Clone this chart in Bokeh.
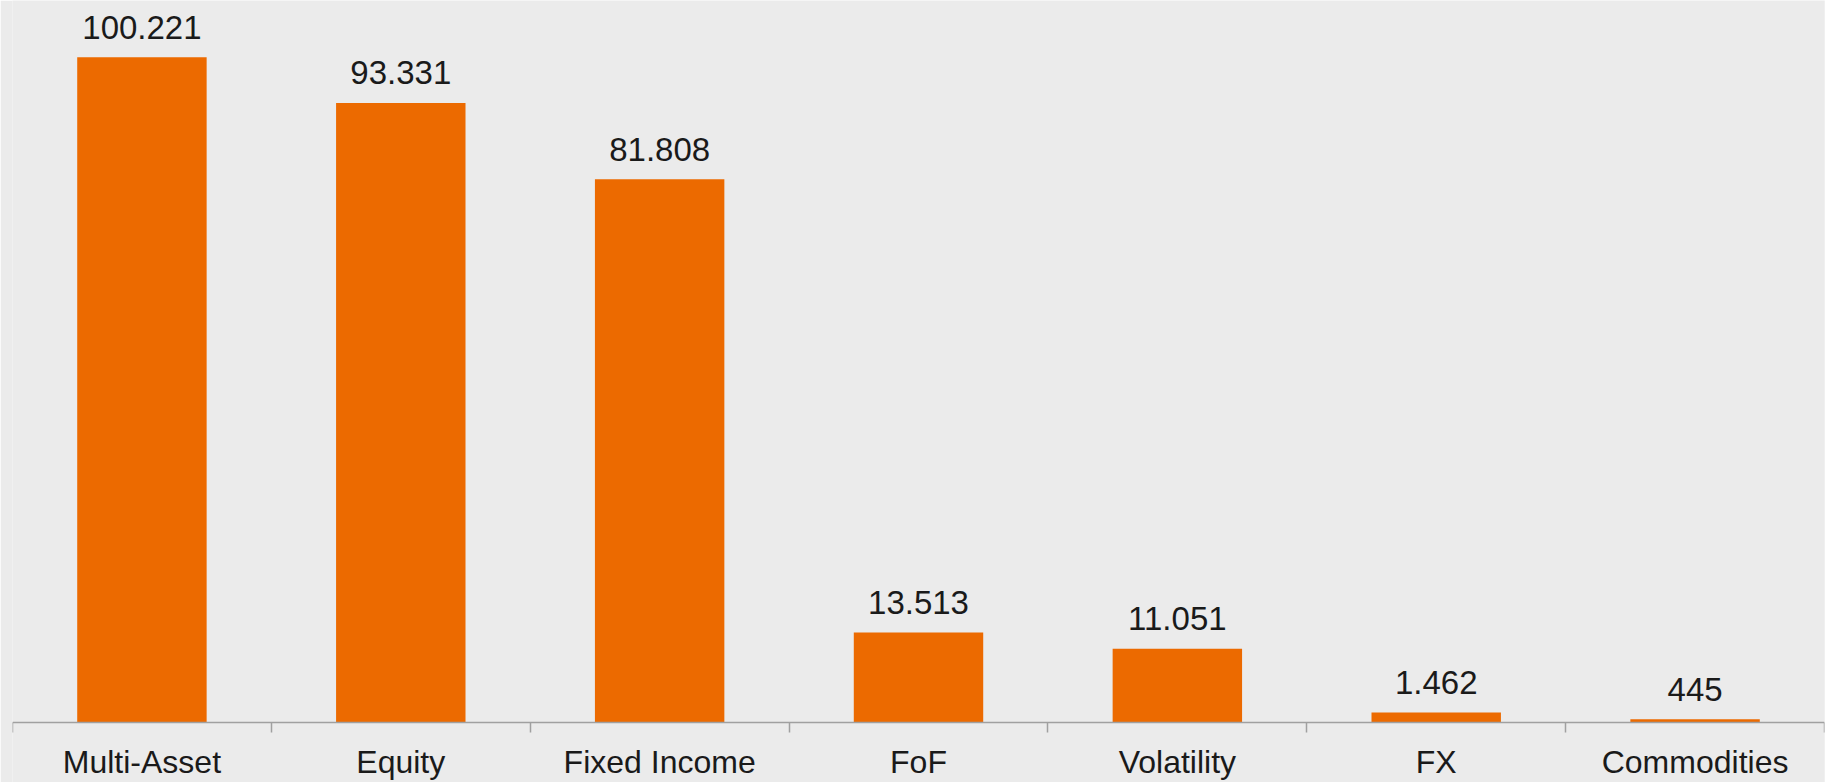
from bokeh.plotting import figure
from bokeh.models import ColumnDataSource, FixedTicker, Range1d, LinearAxis
from bokeh.embed import file_html
from bokeh.resources import INLINE
from bokeh.core.properties import value

categories = ["Multi-Asset", "Equity", "Fixed Income", "FoF", "Volatility", "FX", "Commodities"]
values = [100221, 93331, 81808, 13513, 11051, 1462, 445]

def fmt(v):
    return f"{v:,}".replace(",", ".")

labels = [fmt(v) for v in values]
xs = [i + 0.5 for i in range(len(categories))]

src = ColumnDataSource(dict(x=xs, top=values, label=labels))

FONT = "Liberation Sans"
BG = "#ebebeb"

p = figure(width=1825, height=782, output_backend="svg", toolbar_location=None,
           x_range=Range1d(0, len(categories)), y_range=Range1d(-9104, 108768),
           min_border_left=12, min_border_right=1, min_border_top=0, min_border_bottom=0,
           background_fill_color=BG, border_fill_color=BG, outline_line_color=None,
           x_axis_location=None, y_axis_location=None)
p.xgrid.visible = False
p.ygrid.visible = False

p.vbar(x="x", top="top", width=0.5, bottom=0, source=src, fill_color="#ec6a00", line_color=None)

p.text(x="x", y="top", text="label", source=src, text_align="center", text_baseline="alphabetic",
       y_offset=-30, text_font=value(FONT), text_font_size="33px", text_color="#1a1a1a")

ax = LinearAxis(ticker=FixedTicker(ticks=xs, minor_ticks=list(range(len(categories) + 1))),
                fixed_location=0)
ax.major_label_overrides = {x: c for x, c in zip(xs, categories)}
ax.major_label_text_font = FONT
ax.major_label_text_font_size = "32px"
ax.major_label_text_color = "#1a1a1a"
ax.major_label_standoff = 12
ax.major_tick_line_color = None
ax.major_tick_out = 0
ax.major_tick_in = 0
ax.minor_tick_out = 10
ax.minor_tick_in = 0
ax.minor_tick_line_color = "#a0a0a0"
ax.minor_tick_line_width = 1.5
ax.axis_line_color = "#a0a0a0"
ax.axis_line_width = 1.5
p.add_layout(ax, "below")

open("out.html", "w").write(file_html(p, INLINE))
